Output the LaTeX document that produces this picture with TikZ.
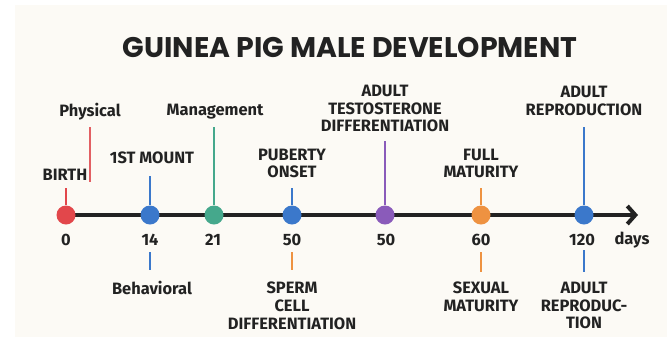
\documentclass[tikz,border=0pt]{standalone}
\usepackage{fontspec}
\setmainfont{Fira Sans}
\newfontfamily\titlefont{Poppins}
\usetikzlibrary{arrows.meta,positioning}
\definecolor{bgcream}{HTML}{FCFAF5}
\definecolor{inkgray}{HTML}{222222}
\definecolor{birthred}{HTML}{E2474B}
\definecolor{physred}{HTML}{E25F63}
\definecolor{mountblue}{HTML}{3B78CB}
\definecolor{mgmtgreen}{HTML}{45A88C}
\definecolor{testpurple}{HTML}{8A5BBA}
\definecolor{matorange}{HTML}{EE9241}
\tikzset{
  lbl/.style={font=\bfseries\fontsize{16.5}{17.8}\selectfont, text=inkgray, align=center, inner sep=0pt},
  num/.style={font=\bfseries\fontsize{16.5}{17.8}\selectfont, text=inkgray, inner sep=0pt},
  dot/.style={circle, fill=#1, minimum size=19bp, inner sep=0pt},
  stem/.style={draw=#1, line width=2.8bp},
}
\begin{document}
\begin{tikzpicture}[x=1bp,y=-1bp]
        \useasboundingbox (0,0) rectangle (667,337);
        \fill[bgcream] (15,5) rectangle (667,337);
        \def\ya{215}
        %Title
        \node[font=\titlefont\bfseries\fontsize{28.5}{30}\selectfont, text=inkgray] (title) at (350,47) {GUINEA PIG MALE DEVELOPMENT};
        %Axis
        \coordinate (start) at (66,\ya);
        \coordinate (tip) at (638,\ya);
        \draw[line width=4bp, inkgray, -{Straight Barb[length=8bp,width=18bp]}] (start) -- (tip);
        %Dots
        \node[dot=birthred] (d0) at (66,\ya) {};
        \node[dot=mountblue] (d14) at (150,\ya) {};
        \node[dot=mgmtgreen] (d21) at (214,\ya) {};
        \node[dot=mountblue] (d50a) at (292,\ya) {};
        \node[dot=testpurple] (d50b) at (385,\ya) {};
        \node[dot=matorange] (d60) at (481,\ya) {};
        \node[dot=mountblue] (d120) at (584,\ya) {};
        %Numbers
        \node[num] (n0) at (66,240) {0};
        \node[num] (n14) at (150,240) {14};
        \node[num] (n21) at (213,240) {21};
        \node[num] (n50a) at (292,240) {50};
        \node[num] (n50b) at (386,240) {50};
        \node[num] (n60) at (481,240) {60};
        \node[num] (n120) at (582,240) {120};
        \node[num] (days) at (632,240) {days};
        %Upper labels
        \node[lbl] (birth) at (65,175) {BIRTH};
        \node[lbl] (phys) at (90,112) {Physical};
        \node[lbl] (mount) at (152,158) {1ST MOUNT};
        \node[lbl] (mgmt) at (215,112) {Management};
        \node[lbl] (puberty) at (292,163.5) {PUBERTY\\ONSET};
        \node[lbl] (testo) at (385,108.5) {ADULT\\TESTOSTERONE\\DIFFERENTIATION};
        \node[lbl] (fullmat) at (481,163.5) {FULL\\MATURITY};
        \node[lbl] (adultup) at (584,101) {ADULT\\REPRODUCTION};
        %Lower labels
        \node[lbl] (behav) at (152,288) {Behavioral};
        \node[lbl] (sperm) at (292,306) {SPERM\\CELL\\DIFFERENTIATION};
        \node[lbl] (sexmat) at (481,297) {SEXUAL\\MATURITY};
        \node[lbl] (adultlow) at (584,305.5) {ADULT\\REPRODUC-\\TION};
        %Stem ends
        \coordinate (s0) at (66,188);
        \coordinate (p1) at (90,127);
        \coordinate (p2) at (90,182);
        \coordinate (s14) at (150,176);
        \coordinate (s21) at (214,127);
        \coordinate (s50a) at (292,188);
        \coordinate (s50b) at (385,141);
        \coordinate (s60) at (481,188);
        \coordinate (s120) at (584,127);
        \coordinate (b14a) at (150,252);
        \coordinate (b14b) at (150,270);
        \coordinate (b50a) at (292,252);
        \coordinate (b50b) at (292,270);
        \coordinate (b60a) at (481,252);
        \coordinate (b60b) at (481,272);
        \coordinate (b120a) at (584,250);
        \coordinate (b120b) at (584,272);
        %Draw stems
        \draw[stem=birthred] (s0) -- (d0);
        \draw[stem=physred] (p1) -- (p2);
        \draw[stem=mountblue] (s14) -- (d14);
        \draw[stem=mgmtgreen] (s21) -- (d21);
        \draw[stem=mountblue] (s50a) -- (d50a);
        \draw[stem=testpurple] (s50b) -- (d50b);
        \draw[stem=matorange] (s60) -- (d60);
        \draw[stem=mountblue] (s120) -- (d120);
        \draw[stem=mountblue] (b14a) -- (b14b);
        \draw[stem=matorange] (b50a) -- (b50b);
        \draw[stem=matorange] (b60a) -- (b60b);
        \draw[stem=mountblue] (b120a) -- (b120b);
      \end{tikzpicture}
\end{document}
